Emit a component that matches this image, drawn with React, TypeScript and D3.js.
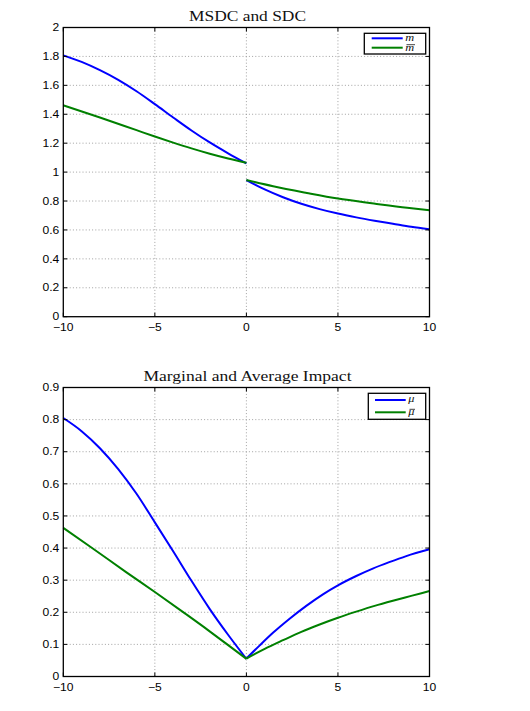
import React from "react";
import * as d3 from "d3";

// ---- data ----
const xTicks = [-10, -5, 0, 5, 10];
const yTicksTop = [0, 0.2, 0.4, 0.6, 0.8, 1, 1.2, 1.4, 1.6, 1.8, 2];
const yTicksBottom = [0, 0.1, 0.2, 0.3, 0.4, 0.5, 0.6, 0.7, 0.8, 0.9];

// Top panel: MSDC (m, blue) and SDC (m-bar, green)
const mLeftX = [-10, -9, -8, -7, -6, -5, -4, -3, -2, -1, 0];
const mLeftY = [1.807, 1.762, 1.705, 1.638, 1.559, 1.47, 1.378, 1.288, 1.205, 1.13, 1.06];
const mRightX = [0, 1, 2, 3, 4, 5, 6, 7, 8, 9, 10];
const mRightY = [0.945, 0.88, 0.826, 0.781, 0.744, 0.713, 0.687, 0.664, 0.643, 0.622, 0.604];
const mbLeftX = [-10, -8, -6, -5, -4, -3, -2, -1, 0];
const mbLeftY = [1.462, 1.378, 1.29, 1.246, 1.204, 1.164, 1.127, 1.094, 1.064];
const mbRightX = [0, 1.46, 3.3, 5, 6.96, 8.78, 10];
const mbRightY = [0.945, 0.902, 0.856, 0.817, 0.783, 0.753, 0.736];

// Bottom panel: marginal (mu, blue) and average (mu-bar, green) impact
const muLeftX = [-10, -9, -8, -7, -6, -5, -4, -3, -2, -1, 0];
const muLeftY = [0.805, 0.764, 0.711, 0.646, 0.569, 0.48, 0.39, 0.298, 0.21, 0.13, 0.055];
const muRightX = [0, 0.73, 1.45, 2.36, 3.27, 4.18, 5, 6, 6.9, 7.8, 8.73, 10];
const muRightY = [0.056, 0.097, 0.136, 0.18, 0.22, 0.256, 0.284, 0.313, 0.336, 0.356, 0.375, 0.396];
const mubLeftX = [-10, -8.37, -6.57, -5, -3.32, -2.06, -1.05, 0];
const mubLeftY = [0.463, 0.398, 0.325, 0.263, 0.195, 0.143, 0.1, 0.055];
const mubRightX = [0, 1, 2, 3, 4, 5, 6, 7, 8, 9, 10];
const mubRightY = [0.056, 0.086, 0.113, 0.139, 0.162, 0.183, 0.202, 0.22, 0.236, 0.251, 0.266];

const BLUE = "#0000ff";
const GREEN = "#008000";

const xScale = d3.scaleLinear().domain([-10, 10]).range([63.3, 429.5]);

type Series = { xs: number[]; ys: number[]; color: string };

function fmt(v: number) {
  const s = String(Math.round(v * 10) / 10);
  return s.replace("-", "\u2212");
}

function Panel(props: {
  top: number;
  bottom: number;
  yMax: number;
  yTicks: number[];
  title: string;
  titleWidth: number;
  series: Series[];
  legend: { y1: number; y2: number; left: number; right: number; top: number; bottom: number; lx1: number; lx2: number; labels: string[]; barW: number };
}) {
  const { top, bottom, yMax, yTicks, title, titleWidth, series, legend } = props;
  const yScale = d3.scaleLinear().domain([0, yMax]).range([bottom, top]);
  const [x0, x1] = xScale.range();
  const line = d3
    .line<[number, number]>()
    .x((d) => xScale(d[0]))
    .y((d) => yScale(d[1]))
    .curve(d3.curveMonotoneX);
  const tickLen = 4;
  const tickFont = "'Liberation Sans', Arial, Helvetica, sans-serif";
  const serif = "'Liberation Serif', 'Times New Roman', serif";
  return (
    <g>
      <text
        x={247.5}
        y={top - 7}
        textAnchor="middle"
        fontFamily={serif}
        fontSize={15}
        textLength={titleWidth}
        lengthAdjust="spacingAndGlyphs"
        fill="#111"
      >
        {title}
      </text>
      {/* grid */}
      {xTicks.slice(1, -1).map((t) => (
        <line key={"gx" + t} x1={xScale(t)} x2={xScale(t)} y1={top} y2={bottom} stroke="#8a8a8a" strokeWidth={0.8} strokeDasharray="1,2.2" />
      ))}
      {yTicks.slice(1, -1).map((t) => (
        <line key={"gy" + t} x1={x0} x2={x1} y1={yScale(t)} y2={yScale(t)} stroke="#8a8a8a" strokeWidth={0.8} strokeDasharray="1,2.2" />
      ))}
      {/* curves */}
      {series.map((s, i) => (
        <path
          key={i}
          d={line(s.xs.map((x, j) => [x, s.ys[j]] as [number, number])) || ""}
          fill="none"
          stroke={s.color}
          strokeWidth={2}
          strokeLinejoin="round"
        />
      ))}
      {/* ticks */}
      {xTicks.map((t) => (
        <g key={"tx" + t}>
          <line x1={xScale(t)} x2={xScale(t)} y1={bottom} y2={bottom - tickLen} stroke="#000" strokeWidth={1} />
          <line x1={xScale(t)} x2={xScale(t)} y1={top} y2={top + tickLen} stroke="#000" strokeWidth={1} />
          <text
            transform={`translate(${xScale(t)},${bottom + 14.3}) scale(1.15,1)`}
            textAnchor="middle"
            fontFamily={tickFont}
            fontSize={10.5}
            fill="#000"
          >
            {fmt(t)}
          </text>
        </g>
      ))}
      {yTicks.map((t) => (
        <g key={"ty" + t}>
          <line x1={x0} x2={x0 + tickLen} y1={yScale(t)} y2={yScale(t)} stroke="#000" strokeWidth={1} />
          <line x1={x1} x2={x1 - tickLen} y1={yScale(t)} y2={yScale(t)} stroke="#000" strokeWidth={1} />
          <text
            transform={`translate(${x0 - 4},${yScale(t) + 3.7}) scale(1.15,1)`}
            textAnchor="end"
            fontFamily={tickFont}
            fontSize={10.5}
            fill="#000"
          >
            {fmt(t)}
          </text>
        </g>
      ))}
      {/* frame */}
      <rect x={x0} y={top} width={x1 - x0} height={bottom - top} fill="none" stroke="#000" strokeWidth={1.3} />
      {/* legend */}
      <rect
        x={legend.left}
        y={legend.top}
        width={legend.right - legend.left}
        height={legend.bottom - legend.top}
        fill="#fff"
        stroke="#000"
        strokeWidth={1.3}
      />
      <line x1={legend.lx1} x2={legend.lx2} y1={legend.y1} y2={legend.y1} stroke={BLUE} strokeWidth={2} />
      <line x1={legend.lx1} x2={legend.lx2} y1={legend.y2} y2={legend.y2} stroke={GREEN} strokeWidth={2} />
      <text
        transform={`translate(${legend.lx2 + 2.5},${legend.y1 + 2.3}) scale(1.3,1)`}
        fontFamily={serif}
        fontStyle="italic"
        fontSize={9.5}
        fill="#111"
      >
        {legend.labels[0]}
      </text>
      <text
        transform={`translate(${legend.lx2 + 2.5},${legend.y2 + 2.8}) scale(1.3,1)`}
        fontFamily={serif}
        fontStyle="italic"
        fontSize={9.5}
        fill="#111"
      >
        {legend.labels[1]}
      </text>
      <line
        x1={legend.lx2 + 3.8}
        x2={legend.lx2 + 3.8 + legend.barW}
        y1={legend.y2 - 3}
        y2={legend.y2 - 3}
        stroke="#111"
        strokeWidth={0.8}
      />
    </g>
  );
}

export default function App() {
  return (
    <svg
      width={530}
      height={711}
      style={{ position: "absolute", left: 0, top: 0, background: "#fff" }}
    >
      <rect x={0} y={0} width={530} height={711} fill="#fff" />
      <Panel
        top={27.5}
        bottom={316.7}
        yMax={2}
        yTicks={yTicksTop}
        title="MSDC and SDC"
        titleWidth={117}
        series={[
          { xs: mLeftX, ys: mLeftY, color: BLUE },
          { xs: mRightX, ys: mRightY, color: BLUE },
          { xs: mbLeftX, ys: mbLeftY, color: GREEN },
          { xs: mbRightX, ys: mbRightY, color: GREEN },
        ]}
        legend={{ left: 364.3, right: 425.7, top: 33.3, bottom: 54, y1: 38.3, y2: 47.7, lx1: 371.7, lx2: 402.7, labels: ["m", "m"], barW: 8.5 }}
      />
      <Panel
        top={387.5}
        bottom={676.5}
        yMax={0.9}
        yTicks={yTicksBottom}
        title="Marginal and Average Impact"
        titleWidth={208}
        series={[
          { xs: muLeftX, ys: muLeftY, color: BLUE },
          { xs: muRightX, ys: muRightY, color: BLUE },
          { xs: mubLeftX, ys: mubLeftY, color: GREEN },
          { xs: mubRightX, ys: mubRightY, color: GREEN },
        ]}
        legend={{ left: 368.3, right: 425.7, top: 393.3, bottom: 419.3, y1: 400, y2: 412.3, lx1: 375, lx2: 405.7, labels: ["\u03bc", "\u03bc"], barW: 5.5 }}
      />
    </svg>
  );
}
